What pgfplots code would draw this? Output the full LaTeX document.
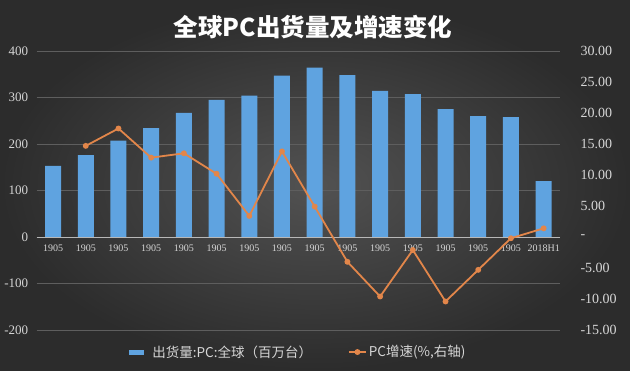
\documentclass[border=0pt]{standalone}
\usepackage{pgfplots}
\pgfplotsset{compat=1.18}
\usepackage{fontspec}
\setmainfont{Liberation Serif}
\newfontfamily\cjk{Noto Sans CJK SC}
\definecolor{bgin}{HTML}{525252}
\definecolor{bgout}{HTML}{2C2C2C}
\definecolor{barblue}{HTML}{5FA3E0}
\definecolor{lineor}{HTML}{E2864A}
\definecolor{gridc}{HTML}{5E5E5E}
\definecolor{zeroc}{HTML}{B8B8B8}
\definecolor{txt}{HTML}{D6D6D6}
\begin{document}
\begin{tikzpicture}[x=1pt,y=1pt]
\shade[inner color=bgin, outer color=bgout] (0,0) rectangle (630,370);
\path[use as bounding box] (0,0) rectangle (630,370);
\node[text=white, font=\cjk\bfseries\fontsize{24.5}{27}\selectfont] at (313,343) {全球PC出货量及增速变化};
\begin{axis}[
  at={(36.7pt,40pt)}, anchor=south west, scale only axis,
  width=523.3pt, height=279pt,
  xmin=-0.5, xmax=15.5, ymin=-200, ymax=400,
  axis x line*=middle, axis y line*=left,
  x axis line style={draw=zeroc, line width=0.9pt, -},
  y axis line style={draw=none},
  tick style={draw=none},
  ytick={-200,-100,0,100,200,300,400},
  yticklabels={-200,-100,0,100,200,300,400},
  yticklabel style={font=\fontsize{13}{15}\selectfont, text=txt, xshift=-5pt},
  xtick={0,...,15},
  xticklabels={1905,1905,1905,1905,1905,1905,1905,1905,1905,1905,1905,1905,1905,1905,1905,2018H1},
  xticklabel style={font=\fontsize{10}{12}\selectfont, text=txt},
  ymajorgrids, major grid style={draw=gridc, line width=0.7pt},
  ybar, bar width=16pt,
]
\addplot[ybar, fill=barblue, draw=none] coordinates {
 (0,153) (1,176) (2,207) (3,234) (4,267) (5,295) (6,304) (7,347)
 (8,364) (9,348) (10,314) (11,307) (12,275) (13,260) (14,258) (15,120)};
\end{axis}
\begin{axis}[
  at={(36.7pt,40pt)}, anchor=south west, scale only axis,
  width=523.3pt, height=279pt,
  xmin=-0.5, xmax=15.5, ymin=-15, ymax=30,
  axis x line=none, axis y line*=right,
  y axis line style={draw=none},
  tick style={draw=none},
  ytick={-15,-10,-5,0,5,10,15,20,25,30},
  yticklabels={-15.00,-10.00,-5.00,-,5.00,10.00,15.00,20.00,25.00,30.00},
  yticklabel style={font=\fontsize{14}{16}\selectfont, text=txt, xshift=17pt},
  legend columns=2,
  legend style={at={(0.5,-0.079)}, anchor=center, draw=none, fill=none,
    text=txt, font=\cjk\fontsize{13.5}{15}\selectfont,
    /tikz/every even column/.append style={column sep=34pt}},
]
\addlegendimage{draw=none, legend image code/.code={\fill[barblue, draw=none] (0pt,-2.5pt) rectangle (15pt,2.5pt); \path[draw=none, fill=none] (0pt,-2.5pt) rectangle (21pt,2.5pt);}}
\addlegendentry{出货量:PC:全球（百万台）}
\addplot[color=lineor, line width=1.8pt, mark=*, mark size=2pt, mark options={fill=lineor, draw=lineor}] coordinates {
 (1,14.7) (2,17.5) (3,12.8) (4,13.5) (5,10.2) (6,3.4) (7,13.8) (8,4.9)
 (9,-4.0) (10,-9.6) (11,-2.1) (12,-10.4) (13,-5.3) (14,-0.2) (15,1.4)};
\addlegendentry{PC增速(\%,右轴)}
\end{axis}
\end{tikzpicture}
\end{document}
